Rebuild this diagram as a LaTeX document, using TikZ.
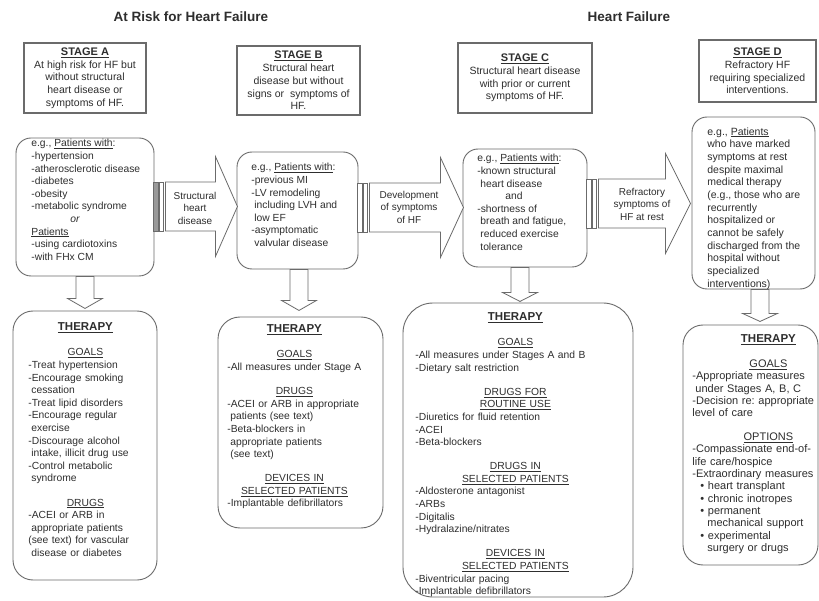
\documentclass[tikz,border=0pt]{standalone}
\usepackage{fontspec}
\setmainfont{Liberation Sans}
\usetikzlibrary{calc}
\frenchspacing

\definecolor{ink}{gray}{0.18}
\definecolor{edge}{gray}{0.42}

\newcommand{\ind}{\hspace*{3pt}}
\newcommand{\stg}[1]{{\fontsize{11}{12.7}\selectfont\bfseries\underline{#1}}}
\newcommand{\thd}[1]{{\centering\underline{#1}\par}}
\newcommand{\sk}{\vspace{11.5pt}}
\newcommand{\thtitle}{{\fontsize{11.5}{13}\selectfont\bfseries\centering\underline{THERAPY}\par}\vspace{13pt}}

% hollow arrow going down out of a box
\newcommand{\dnarrow}[4]{%
  \draw[hollow] ($(#1)+(#2-9,0)$) -- ++(18,0) -- ++(0,#3) -- ++(8.5,0) -- ++(-17.5,#4)
     -- ++(-17.5,-#4) -- ++(8.5,0) -- cycle;}
% striped block arrow going right out of a box
\newcommand{\rtarrow}[5]{%
  \draw[hollow, fill=#3] ($(#1)+(-1,#2-24.5)$) rectangle ++(5,49);
  \draw[hollow] ($(#1)+(5,#2-24.5)$) rectangle ++(4,49);
  \draw[hollow] ($(#1)+(11,#2-24.5)$) -- ++(#4,0) -- ++(0,-25.5) -- ++(#5,50) -- ++(-#5,50)
     -- ++(0,-25.5) -- ++(-#4,0) -- cycle;}

\begin{document}
\begin{tikzpicture}[x=1pt, y=-1pt, thick]
    \tikzstyle{stagebox}=[rectangle, draw=edge, line width=1.3pt, fill=white,
                          align=center, text=ink, inner sep=2pt,
                          font=\fontsize{10.5}{12.7}\selectfont]
    \tikzstyle{patbox}=[rectangle, rounded corners=15pt, draw=edge, line width=0.9pt]
    \tikzstyle{thbox}=[rectangle, rounded corners=20pt, draw=edge, line width=0.9pt]
    \tikzstyle{txt}=[anchor=north west, inner sep=0pt, align=left, text=ink,
                     font=\fontsize{10.3}{12.6}\selectfont,
                     execute at begin node={\parindent=0pt}]
    \tikzstyle{arrlabel}=[align=center, text=ink, font=\fontsize{10}{12.5}\selectfont]
    \tikzstyle{hollow}=[draw=edge, line width=0.8pt, fill=white]
    \tikzstyle{title}=[text=ink, font=\fontsize{13.5}{16}\selectfont\bfseries]

    \path[use as bounding box, fill=white] (0,0) rectangle (819,601);

    \node[title] (risk) at (191,17) {At Risk for Heart Failure};
    \node[title] (hf)   at (629,17) {Heart Failure};

    % stages
    \node[stagebox, minimum width=122pt, minimum height=70pt] (sA) at (85,78)
        {\stg{STAGE A}\\At high risk for HF but\\without structural\\heart disease or\\symptoms of HF.};
    \node[stagebox, minimum width=123pt, minimum height=69pt] (sB) at (298.5,80.5)
        {\stg{STAGE B}\\Structural heart\\disease but without\\signs or\ \ symptoms of\\HF.};
    \node[stagebox, minimum width=134pt, minimum height=70pt] (sC) at (525,78)
        {\stg{STAGE C}\\Structural heart disease\\with prior or current\\symptoms of HF.};
    \node[stagebox, minimum width=117pt, minimum height=62pt] (sD) at (757.5,71)
        {\stg{STAGE D}\\Refractory HF\\requiring specialized\\interventions.};

    % patients
    \node[patbox, minimum width=138pt, minimum height=138pt] (pA) at (85,207) {};
    \node[patbox, minimum width=121pt, minimum height=117pt] (pB) at (297.5,210.5) {};
    \node[patbox, minimum width=124pt, minimum height=118pt] (pC) at (525,208) {};
    \node[patbox, minimum width=123pt, minimum height=172pt] (pD) at (753.5,203) {};

    \node[txt] (pAtxt) at (31,139) {e.g., \underline{Patients with}:\\-hypertension\\-atherosclerotic disease\\-diabetes\\-obesity\\-metabolic syndrome\\\hspace*{39pt}\textit{or}\\\underline{Patients}\\-using cardiotoxins\\-with FHx CM};
    \node[txt] (pBtxt) at (251,163) {e.g., \underline{Patients with}:\\-previous MI\\-LV remodeling\\\ind including LVH and\\\ind low EF\\-asymptomatic\\\ind valvular disease};
    \node[txt] (pCtxt) at (477,154) {e.g., \underline{Patients with}:\\-known structural\\\ind heart disease\\\hspace*{28pt}and\\-shortness of\\\ind breath and fatigue,\\\ind reduced exercise\\\ind tolerance};
    \node[txt, font=\fontsize{10.5}{12.67}\selectfont] (pDtxt) at (707,127) {e.g., \underline{Patients}\\who have marked\\symptoms at rest\\despite maximal\\medical therapy\\(e.g., those who are\\recurrently\\hospitalized or\\cannot be safely\\discharged from the\\hospital without\\specialized\\interventions)};

    % arrows between stages
    \rtarrow{pA.east}{-0.5}{black!40}{50}{22}
    \rtarrow{pB.east}{-3}{white}{71}{23}
    \rtarrow{pC.east}{-4.5}{white}{67}{25}
    \node[arrlabel] (lAB) at (195,208) {Structural\\heart\\disease};
    \node[arrlabel] (lBC) at (409,207) {Development\\of symptoms\\of HF};
    \node[arrlabel] (lCD) at (642,204) {Refractory\\symptoms of\\HF at rest};

    % therapy
    \node[thbox, minimum width=144pt, minimum height=269pt] (tA) at (85,445.5) {};
    \node[thbox, rounded corners=22pt, minimum width=165pt, minimum height=211pt] (tB) at (300.5,422.5) {};
    \node[thbox, rounded corners=30pt, minimum width=230pt, minimum height=294pt] (tC) at (518,450) {};
    \node[thbox, minimum width=135pt, minimum height=240pt] (tD) at (750.5,445) {};

    \dnarrow{pA.south}{0}{22}{10}
    \dnarrow{pB.south}{1.5}{31}{10}
    \dnarrow{pC.south}{-5}{25}{9}
    \dnarrow{pD.south}{6.5}{24}{8}

    \node[txt, text width=114pt] (tAtxt) at (28,322) {\thtitle
        \thd{GOALS}
        -Treat hypertension\\
        -Encourage smoking\\
        \ind cessation\\
        -Treat lipid disorders\\
        -Encourage regular\\
        \ind exercise\\
        -Discourage alcohol\\
        \ind intake, illicit drug use\\
        -Control metabolic\\
        \ind syndrome\par
        \sk\thd{DRUGS}
        -ACEI or ARB in\\
        \ind appropriate patients\\
        (see text) for vascular\\
        \ind disease or diabetes\par};
    \node[txt, text width=134pt] (tBtxt) at (227,324) {\thtitle
        \thd{GOALS}
        -All measures under Stage A\par
        \sk\thd{DRUGS}
        -ACEI or ARB in appropriate\\
        \ind patients (see text)\\
        -Beta-blockers in\\
        \ind appropriate patients\\
        \ind (see text)\par
        \sk\thd{DEVICES IN}\thd{SELECTED PATIENTS}
        -Implantable defibrillators\par};
    \node[txt, text width=200pt] (tCtxt) at (415,312) {\thtitle
        \thd{GOALS}
        -All measures under Stages A and B\\
        -Dietary salt restriction\par
        \sk\thd{DRUGS FOR}\thd{ROUTINE USE}
        -Diuretics for fluid retention\\
        -ACEI\\
        -Beta-blockers\par
        \sk\thd{DRUGS IN}\thd{SELECTED PATIENTS}
        -Aldosterone antagonist\\
        -ARBs\\
        -Digitalis\\
        -Hydralazine/nitrates\par
        \sk\thd{DEVICES IN}\thd{SELECTED PATIENTS}
        -Biventricular pacing\\
        -Implantable defibrillators\par};
    \node[txt, text width=152pt, font=\fontsize{11}{12.3}\selectfont] (tDtxt) at (692,334) {\thtitle
        \thd{GOALS}
        -Appropriate measures\\
        \ind under Stages A, B, C\\
        -Decision re: appropriate\\
        level of care\par
        \sk\thd{OPTIONS}
        -Compassionate end-of-\\
        life care/hospice\\
        -Extraordinary measures\\
        \hspace*{8pt}\textbullet\ heart transplant\\
        \hspace*{8pt}\textbullet\ chronic inotropes\\
        \hspace*{8pt}\textbullet\ permanent\\
        \hspace*{15pt}mechanical support\\
        \hspace*{8pt}\textbullet\ experimental\\
        \hspace*{15pt}surgery or drugs\par};
\end{tikzpicture}
\end{document}
